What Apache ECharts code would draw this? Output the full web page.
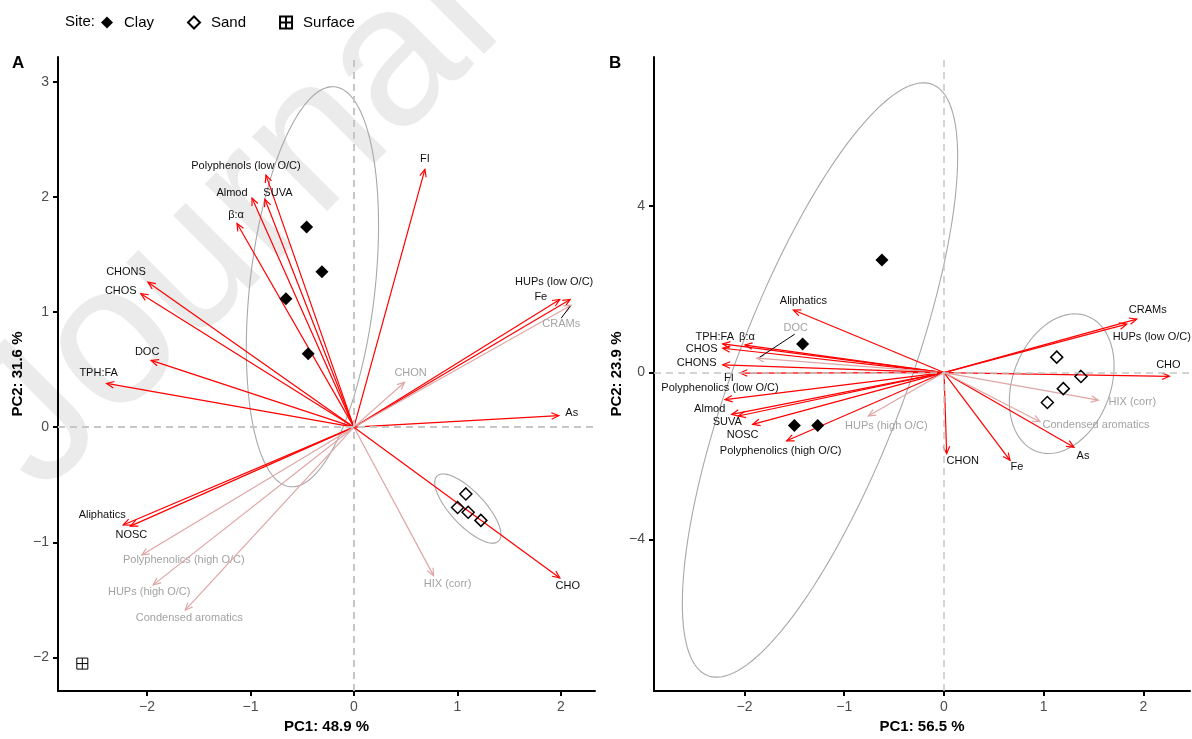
<!DOCTYPE html>
<html>
<head>
<meta charset="utf-8">
<script src="https://cdn.jsdelivr.net/npm/echarts@6/dist/echarts.min.js"></script>
<style>
  html, body { margin: 0; padding: 0; background: #fff; }
  #chart { width: 1192px; height: 739px; }
</style>
</head>
<body>
<div id="chart"></div>
<script>
// ---- panel A scores ----
const clayA = [[-0.457, 1.739], [-0.309, 1.351], [-0.657, 1.115], [-0.442, 0.638]];
const sandA = [[1.082, -0.58], [1.002, -0.698], [1.104, -0.739], [1.227, -0.81]];
const surfaceA = [[-2.625, -2.054]];

// ---- panel A loadings ----
const varsA = ['FI', 'Polyphenols (low O/C)', 'SUVA', 'Almod', 'β:α', 'CHONS', 'CHOS', 'DOC', 'TPH:FA',
  'Aliphatics', 'NOSC', 'Polyphenolics (high O/C)', 'HUPs (high O/C)', 'Condensed aromatics',
  'HUPs (low O/C)', 'Fe', 'CRAMs', 'CHON', 'As', 'HIX (corr)', 'CHO'];
const pc1A = [0.686, -0.85, -0.86, -0.985, -1.13, -1.99, -2.06, -1.96, -2.39,
  -2.23, -2.16, -2.05, -1.94, -1.63, 2.09, 1.99, 2.10, 0.49, 1.98, 0.77, 1.99];
const pc2A = [2.24, 2.19, 1.98, 1.99, 1.77, 1.26, 1.16, 0.58, 0.38,
  -0.85, -0.86, -1.11, -1.37, -1.59, 1.11, 1.11, 1.06, 0.39, 0.10, -1.29, -1.31];
const sigA = [1, 1, 1, 1, 1, 1, 1, 1, 1, 1, 1, 0, 0, 0, 1, 1, 0, 0, 1, 0, 1];

// ---- panel B scores ----
const clayB = [[-1.417, 0.686], [-1.50, -1.27], [-1.266, -1.27], [-0.622, 2.70]];
const sandB = [[1.13, 0.37], [1.373, -0.093], [1.196, -0.386], [1.036, -0.719]];

// ---- panel B loadings ----
const varsB = ['Aliphatics', 'β:α', 'TPH:FA', 'CHOS', 'DOC', 'CHONS', 'FI', 'Polyphenolics (low O/C)',
  'Almod', 'SUVA', 'NOSC', 'Polyphenolics (high O/C)', 'HUPs (high O/C)', 'CHON', 'Fe', 'As',
  'Condensed aromatics', 'HIX (corr)', 'CHO', 'HUPs (low O/C)', 'CRAMs'];
const pc1B = [-1.51, -1.995, -2.218, -2.218, -1.877, -2.218, -2.045, -2.195,
  -2.128, -2.062, -1.918, -1.577, -0.759, 0.027, 0.662, 1.303,
  0.962, 1.547, 2.259, 1.832, 1.932];
const pc2B = [1.50, 0.66, 0.686, 0.583, 0.345, 0.186, -0.012, -0.648,
  -1.005, -1.043, -1.243, -1.638, -1.043, -1.945, -2.107, -1.79,
  -1.179, -0.662, -0.09, 1.16, 1.28];
const sigB = [1, 1, 1, 1, 0, 1, 1, 1, 1, 1, 1, 1, 0, 1, 1, 1, 0, 0, 1, 1, 1];

// confidence ellipses: centre, major semi-axis vector, minor semi-axis vector (data units)
const clayEllA = [-0.401, 1.22, 0.217, 1.737, 0.601, -0.06];
const sandEllA = [1.101, -0.707, 0.297, -0.284, -0.12, -0.1];
const clayEllB = [-1.243, -0.179, 1.123, 7.095, 0.802, -0.714];
const sandEllB = [1.18, -0.267, 0.251, 1.626, 0.461, -0.402];

// tick labels
const xTicksA = [-2, -1, 0, 1, 2];
const yTicksA = [-2, -1, 0, 1, 2, 3];
const xTicksB = [-2, -1, 0, 1, 2];
const yTicksB = [-4, 0, 4];

// label placement (pixel offsets from arrow tip, repelled labels)
const labOffA = [[0, -10], [-20, -9], [13, -6], [-20, -5], [-1, -8], [-22, -10], [-20, -3], [-4, -8], [-8, -10],
  [-21, -10], [1, 9], [42, 5], [-4, 7], [4, 8],
  [-16, -17], [-19, -2], [-10, 19], [6, -9], [13, -3], [14, 8], [8, 8]];
const labOffB = [[10, -9], [2, -8], [-8, -7], [-21, 1], [39, -30], [-26, -2], [-11, 5], [-5, -12],
  [-22, -5], [-11, 6], [-10, 11], [-6, 10], [18, 10], [16, 7], [7, 7], [9, 9],
  [56, 3], [34, 2], [-1, -11], [25, 13], [11, -9]];
const leaderA = { 'CRAMs': [[-1, 1], [-10, 13]] };
const leaderB = { 'DOC': [[38, -24], [3, -1]] };

const FONT = 'Liberation Sans, Arial, sans-serif';
const chart = echarts.init(document.getElementById('chart'));

function ellipsePts(e) {
  const pts = [];
  for (let i = 0; i <= 160; i++) {
    const t = 2 * Math.PI * i / 160;
    pts.push([e[0] + Math.cos(t) * e[2] + Math.sin(t) * e[4],
              e[1] + Math.cos(t) * e[3] + Math.sin(t) * e[5]]);
  }
  return pts;
}

function ellipseSeries(e, idx) {
  return {
    type: 'line', xAxisIndex: idx, yAxisIndex: idx, data: ellipsePts(e),
    showSymbol: false, silent: true, z: 1,
    lineStyle: { color: '#a8a8a8', width: 1.1 }
  };
}

function zeroLines(idx, w) {
  return {
    type: 'line', xAxisIndex: idx, yAxisIndex: idx, data: [], silent: true, z: 1,
    markLine: {
      silent: true, symbol: 'none', label: { show: false }, animation: false,
      lineStyle: { type: [7, 5], color: '#c6c6c6', width: w },
      data: [{ xAxis: 0 }, { yAxis: 0 }]
    }
  };
}

function arrowSeries(names, pc1, pc2, sig, offs, leaders, idx) {
  return {
    type: 'custom', xAxisIndex: idx, yAxisIndex: idx, z: 3, silent: true,
    encode: { x: 0, y: 1 },
    data: names.map((n, i) => [pc1[i], pc2[i], i]),
    renderItem(params, api) {
      const i = api.value(2);
      const o = api.coord([0, 0]);
      const p = api.coord([api.value(0), api.value(1)]);
      const col = sig[i] ? '#ff0000' : '#dfa6a6';
      const a = Math.atan2(p[1] - o[1], p[0] - o[0]);
      const L = 8, s = 0.42;
      const children = [
        { type: 'line', shape: { x1: o[0], y1: o[1], x2: p[0], y2: p[1] },
          style: { stroke: col, lineWidth: 1.2 } },
        { type: 'polyline', shape: { points: [
            [p[0] - L * Math.cos(a - s), p[1] - L * Math.sin(a - s)], p,
            [p[0] - L * Math.cos(a + s), p[1] - L * Math.sin(a + s)]] },
          style: { stroke: col, lineWidth: 1.2, fill: null } },
        { type: 'text', x: p[0] + offs[i][0], y: p[1] + offs[i][1],
          style: { text: names[i], font: '11px ' + FONT, fill: sig[i] ? '#111' : '#a3a3a3',
                   align: 'center', verticalAlign: 'middle' } }
      ];
      const ld = leaders[names[i]];
      if (ld) {
        children.push({ type: 'line', shape: { x1: p[0] + ld[0][0], y1: p[1] + ld[0][1],
          x2: p[0] + ld[1][0], y2: p[1] + ld[1][1] }, style: { stroke: '#000', lineWidth: 1 } });
      }
      return { type: 'group', children };
    }
  };
}

function scatter(name, data, idx, kind) {
  const s = { type: 'scatter', name, data, xAxisIndex: idx, yAxisIndex: idx, z: 4, silent: true };
  if (kind === 'filled') {
    s.symbol = 'diamond'; s.symbolSize = 13;
    s.itemStyle = { color: '#000', opacity: 1 };
  } else if (kind === 'open') {
    s.symbol = 'diamond'; s.symbolSize = 12;
    s.itemStyle = { color: 'rgba(0,0,0,0)', borderColor: '#000', borderWidth: 1.5, opacity: 1 };
  } else {
    s.symbol = 'path://M0,0L10,0L10,10L0,10Z M5,0L5,10 M0,5L10,5'; s.symbolSize = 11;
    s.itemStyle = { color: 'rgba(0,0,0,0)', borderColor: '#000', borderWidth: 1, opacity: 1 };
  }
  return s;
}

const minus = v => String(v).replace('-', '\u2212');

function valueAxis(pos, idx, min, max, ticks, name, gap) {
  return {
    type: 'value', gridIndex: idx, position: pos, min, max, name,
    nameLocation: 'middle', nameGap: gap,
    nameTextStyle: { fontFamily: FONT, fontSize: 15, fontWeight: 'bold', color: '#000' },
    axisLine: { onZero: false, lineStyle: { color: '#000', width: 2 } },
    axisTick: { length: 5, lineStyle: { color: '#000', width: 2 }, customValues: ticks },
    axisLabel: { customValues: ticks, formatter: minus, color: '#4d4d4d', fontSize: 14,
                 fontFamily: FONT, margin: 9 },
    splitLine: { show: false }
  };
}

const option = {
  animation: false,
  backgroundColor: '#fff',
  title: [
    { text: 'A', left: 12, top: 55, padding: 0, textStyle: { fontFamily: FONT, fontSize: 17, fontWeight: 'bold', color: '#000' } },
    { text: 'B', left: 609, top: 55, padding: 0, textStyle: { fontFamily: FONT, fontSize: 17, fontWeight: 'bold', color: '#000' } }
  ],
  graphic: [
    { type: 'text', x: 235, y: 225, rotation: Math.PI / 4, z: -10, silent: true,
      style: { text: 'Journal', font: '200px ' + FONT, fill: '#ebebeb', align: 'center', verticalAlign: 'middle' } },
    { type: 'text', left: 65, top: 14,
      style: { text: 'Site:', font: '15px ' + FONT, fill: '#000' } }
  ],
  legend: {
    left: 101, top: 15, padding: 0, itemWidth: 12, itemHeight: 12, itemGap: 33,
    data: ['Clay', 'Sand', 'Surface'],
    textStyle: { fontFamily: FONT, fontSize: 15, color: '#000', padding: [0, 0, 0, 6] }
  },
  grid: [
    { left: 58, top: 57, width: 537, height: 639 },
    { left: 654, top: 57, width: 536, height: 639 }
  ],
  xAxis: [
    valueAxis('bottom', 0, -2.86, 2.33, xTicksA, 'PC1: 48.9 %', 27),
    valueAxis('bottom', 1, -2.907, 2.466, xTicksB, 'PC1: 56.5 %', 27)
  ],
  yAxis: [
    valueAxis('left', 0, -2.293, 3.216, yTicksA, 'PC2: 31.6 %', 33),
    valueAxis('left', 1, -7.643, 7.571, yTicksB, 'PC2: 23.9 %', 30)
  ],
  series: [
    zeroLines(0, 2),
    zeroLines(1, 1.5),
    ellipseSeries(clayEllA, 0),
    ellipseSeries(sandEllA, 0),
    ellipseSeries(clayEllB, 1),
    ellipseSeries(sandEllB, 1),
    arrowSeries(varsA, pc1A, pc2A, sigA, labOffA, leaderA, 0),
    arrowSeries(varsB, pc1B, pc2B, sigB, labOffB, leaderB, 1),
    scatter('Clay', clayA, 0, 'filled'),
    scatter('Sand', sandA, 0, 'open'),
    scatter('Surface', surfaceA, 0, 'plus'),
    scatter('Clay', clayB, 1, 'filled'),
    scatter('Sand', sandB, 1, 'open')
  ]
};
chart.setOption(option);
</script>
</body>
</html>
